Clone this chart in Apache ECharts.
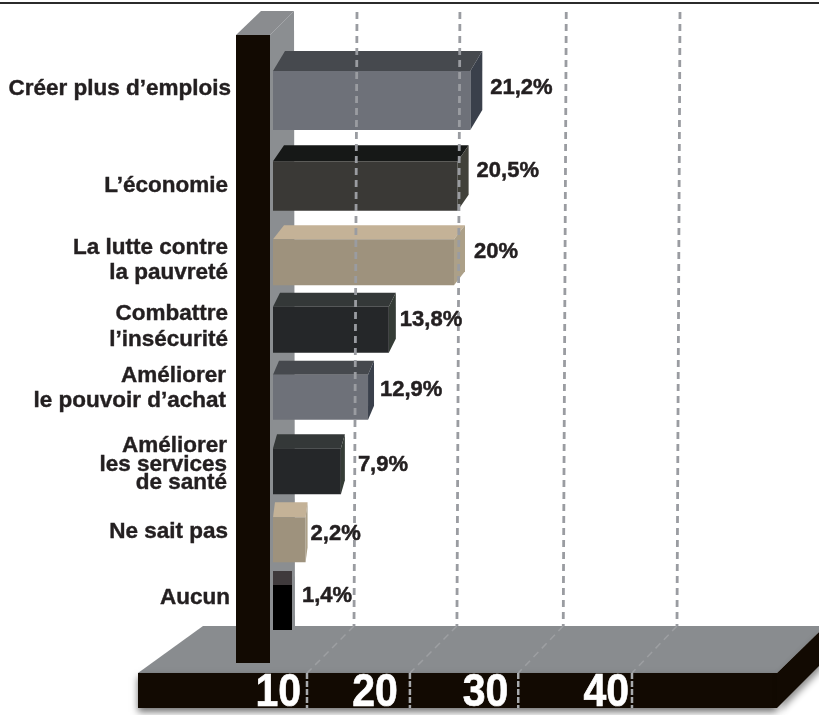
<!DOCTYPE html>
<html>
<head>
<meta charset="utf-8">
<title>Priorités</title>
<script src="https://cdn.jsdelivr.net/npm/echarts@6/dist/echarts.min.js"></script>
<style>
html, body { margin: 0; padding: 0; background: #fff; }
#main { width: 819px; height: 715px; }
</style>
</head>
<body>
<div id="main"></div>
<script>
var categories = [
    "Créer plus d’emplois",
    "L’économie",
    "La lutte contre\nla pauvreté",
    "Combattre\nl’insécurité",
    "Améliorer\nle pouvoir d’achat",
    "Améliorer\nles services\nde santé",
    "Ne sait pas",
    "Aucun"
];
// printed percentages
var valueLabels = ["21,2%", "20,5%", "20%", "13,8%", "12,9%", "7,9%", "2,2%", "1,4%"];
// bar lengths as they are drawn in the picture, the artwork is not to scale with its labels
var drawnLengths = [21.8, 20.4, 20, 12.8, 10.5, 7.5, 3.6, 2.1];
var tickLabels = ["10", "20", "30", "40"];
var tickPositions = [10, 19.5, 29.5, 40];

// per row artwork tweaks, in pixels
var rowShift = [0, 13, 17, 12, 7, 8.5, 4.6, 0];
var rowHeight = [59, 49.5, 46, 46, 45, 46, 45, 45];
var rowDepthX = [12, 11, 11, 7, 6, 4, 2, 0];
var rowDepthY = [20, 16, 14, 14, 14, 14, 15, 14];
var catShift = [-12, 13, 15, 9, -1.6, 2, -3, -10];
var catRight = [231, 228, 228, 228, 226, 227, 228, 230];
var catLineHeight = [24, 24, 25, 26, 25, 18.5, 24, 24];
var labelGapX = [8, 8, 9, 4, 6, 13, 3, 10];
var labelShift = [-13, -2.5, 6.5, 2.5, -0.5, 2, -1.5, -11.5];
var tickLabelShift = [-6, -12, -10, -3];
var tickBackGap = [47, 47, 45, 45];

var GREY = ["#6e7179", "#46494e", "#3a404b"];
var SOOT = ["#3a3936", "#161817", "#41413a"];
var SAND = ["#9e927d", "#c4b297", "#aca088"];
var COAL = ["#252729", "#343838", "#353c36"];
var INK = ["#000000", "#3f3a3c", "#000000"];
var rowColors = [GREY, SOOT, SAND, COAL, GREY, COAL, SAND, INK];

var BLACK = "#120a02";
var FLOOR = "#898c8f";
var DASH = "#9a9ca1";
var TEXT = "#231f20";
var FONT = '"Liberation Sans", Arial, sans-serif';

var BAR_LEFT = 273, BAR_UNIT = 9.05;
var TICK_LEFT = 198.67, TICK_UNIT = 10.833;
var WIDTH = 819, HEIGHT = 715;

function quad(a, b, c, d, color) {
    return {
        type: "polygon",
        shape: { points: [a, b, c, d] },
        style: { fill: color }
    };
}

function renderBar(params, api) {
    var i = api.value(1);
    var end = api.coord([api.value(0), i]);
    var start = api.coord([0, i]);
    var cy = end[1] + rowShift[i];
    var h = rowHeight[i], dx = rowDepthX[i], dy = rowDepthY[i];
    var c = rowColors[i];
    var top = cy - h / 2, bottom = cy + h / 2;
    var x0 = start[0], x1 = end[0];
    var parts = [
        quad([x0, top], [x1, top], [x1 + dx, top - dy], [x0 + dx, top - dy], c[1]),
        quad([x1, top], [x1 + dx, top - dy], [x1 + dx, bottom - dy], [x1, bottom], c[2]),
        { type: "rect", shape: { x: x0, y: top, width: x1 - x0, height: h }, style: { fill: c[0] } }
    ];
    return { type: "group", children: parts };
}

function renderValueLabel(params, api) {
    var i = api.value(1);
    var end = api.coord([api.value(0), i]);
    return {
        type: "text",
        z2: 10,
        style: {
            x: end[0] + rowDepthX[i] + labelGapX[i],
            y: end[1] + labelShift[i],
            text: valueLabels[i],
            textAlign: "left",
            textVerticalAlign: "middle",
            font: "bold 22px " + FONT,
            fill: TEXT,
            stroke: TEXT,
            lineWidth: 0.5
        }
    };
}

function renderCategory(params, api) {
    var i = api.value(1);
    var end = api.coord([0, i]);
    return {
        type: "text",
        style: {
            x: catRight[i],
            y: end[1] + catShift[i],
            text: categories[i],
            textAlign: "right",
            textVerticalAlign: "middle",
            lineHeight: catLineHeight[i],
            font: "bold 22.5px " + FONT,
            fill: TEXT,
            stroke: TEXT,
            lineWidth: 0.4
        }
    };
}

function renderTick(params, api) {
    var i = api.value(1);
    var x = api.coord([api.value(0), 0])[0];
    var back = x + tickBackGap[i];
    var line = function (x1, y1, x2, y2, color, width, dash) {
        return {
            type: "line",
            shape: { x1: x1, y1: y1, x2: x2, y2: y2 },
            style: { stroke: color, lineWidth: width, lineDash: dash }
        };
    };
    return {
        type: "group",
        children: [
            line(back + 3, 12, back, 626, DASH, 2.8, [7, 5]),
            line(back, 626, x, 673, "#9d9fa2", 1.5, [7, 5]),
            line(x, 673, x, 708, "#a9abad", 2.5, [6, 2]),
            {
                type: "text",
                x: x + tickLabelShift[i],
                y: 693.5,
                scaleY: 1.12,
                style: {
                    x: 0,
                    y: 0,
                    text: tickLabels[i],
                    textAlign: "right",
                    textVerticalAlign: "middle",
                    font: "bold 41px " + FONT,
                    fill: "#ffffff",
                    stroke: "#ffffff",
                    lineWidth: 0.6
                }
            }
        ]
    };
}

var barRows = drawnLengths.map(function (v, i) { return [v, i]; });
var tickRows = tickPositions.map(function (v, i) { return [v, i]; });

var scenery = [
    // rule along the top
    { type: "rect", z: 0, shape: { x: 0, y: 2, width: WIDTH, height: 2 }, style: { fill: "#2b2b2b" } },
    // floor slab
    { type: "polygon", z: 0, shape: { points: [[138, 673], [203, 626], [819, 626], [819, 632], [777, 673]] }, style: { fill: FLOOR } },
    { type: "rect", z: 0, shape: { x: 138, y: 673, width: 639, height: 35 }, style: { fill: BLACK, shadowBlur: 7, shadowColor: "rgba(0,0,0,0.55)", shadowOffsetY: 4 } },
    { type: "polygon", z: 0, shape: { points: [[777, 673], [819, 632], [819, 666], [777, 708]] }, style: { fill: BLACK, shadowBlur: 7, shadowColor: "rgba(0,0,0,0.45)", shadowOffsetX: 3, shadowOffsetY: 3 } },
    // back of the pillar
    { type: "polygon", z: 0, shape: { points: [[236, 35], [261, 11], [294, 11], [270, 35]] }, style: { fill: "#8a8c8f" } },
    { type: "polygon", z: 0, shape: { points: [[270, 35], [294, 11], [295, 630], [270, 630]] }, style: { fill: "#8b8e91" } },
    { type: "line", z: 0, shape: { x1: 270, y1: 35, x2: 294, y2: 11 }, style: { stroke: "#a3a5a8", lineWidth: 1 } },
    { type: "rect", z: 0, shape: { x: 236, y: 35, width: 34, height: 628 }, style: { fill: BLACK } }
];

var myChart = echarts.init(document.getElementById("main"), null, { renderer: "canvas" });

var option = {
    animation: false,
    backgroundColor: "#ffffff",
    graphic: { elements: scenery },
    grid: [
        { left: BAR_LEFT, right: 0, top: 64.3, height: 579.4 },
        { left: TICK_LEFT, right: 0, top: 0, height: HEIGHT }
    ],
    xAxis: [
        { gridIndex: 0, type: "value", show: false, min: 0, max: (WIDTH - BAR_LEFT) / BAR_UNIT },
        { gridIndex: 1, type: "value", show: false, min: 0, max: (WIDTH - TICK_LEFT) / TICK_UNIT }
    ],
    yAxis: [
        { gridIndex: 0, type: "category", show: false, inverse: true, data: categories },
        { gridIndex: 1, type: "value", show: false, min: 0, max: 1 }
    ],
    series: [
        {
            name: "bars",
            type: "custom",
            z: 2,
            clip: false,
            xAxisIndex: 0,
            yAxisIndex: 0,
            data: barRows,
            renderItem: renderBar
        },
        {
            name: "ticks",
            type: "custom",
            z: 3,
            clip: false,
            xAxisIndex: 1,
            yAxisIndex: 1,
            data: tickRows,
            renderItem: renderTick
        },
        {
            name: "categories",
            type: "custom",
            z: 4,
            clip: false,
            xAxisIndex: 0,
            yAxisIndex: 0,
            data: barRows,
            renderItem: renderCategory
        },
        {
            name: "values",
            type: "custom",
            z: 4,
            clip: false,
            xAxisIndex: 0,
            yAxisIndex: 0,
            data: barRows,
            renderItem: renderValueLabel
        }
    ]
};

myChart.setOption(option);
</script>
</body>
</html>
